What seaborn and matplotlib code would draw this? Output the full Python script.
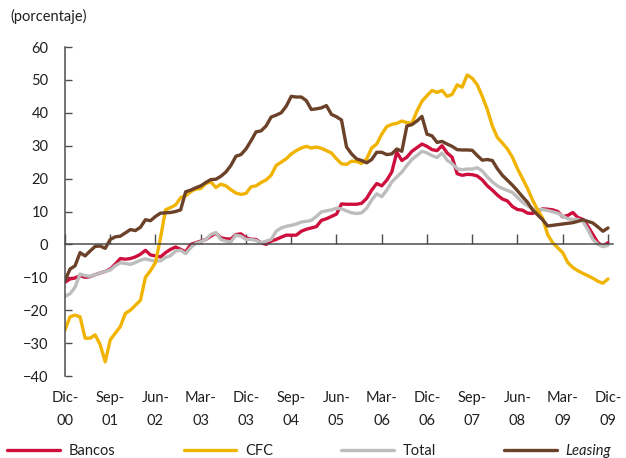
import matplotlib
matplotlib.use("Agg")
import matplotlib.pyplot as plt
import numpy as np
import pandas as pd
import seaborn as sns

# monthly series, Dic-00 .. Dic-09 (porcentaje)
meses = pd.date_range("2000-12-01", "2009-12-01", freq="MS")

tick_pos = list(range(0, 109, 9))
tick_labels = ["Dic-\n00", "Sep-\n01", "Jun-\n02", "Mar-\n03", "Dic-\n03", "Sep-\n04", "Jun-\n05",
               "Mar-\n06", "Dic-\n06", "Sep-\n07", "Jun-\n08", "Mar-\n09", "Dic-\n09"]

bancos = [-11.5, -10.5, -10.2, -9.5, -10.0, -9.8, -9.2, -8.7, -8.2, -7.5,
          -6.0, -4.3, -4.5, -4.3, -3.8, -3.0, -1.8, -3.2, -3.5, -3.8,
          -2.5, -1.5, -0.8, -1.5, -2.3, 0.0, 0.5, 1.0, 1.5, 2.5,
          3.4, 2.0, 1.7, 1.6, 3.0, 3.2, 2.0, 1.6, 1.5, 0.5,
          0.0, 1.0, 1.5, 2.2, 2.8, 2.8, 2.8, 4.0, 4.6, 5.0,
          5.4, 7.3, 7.8, 8.5, 9.2, 12.3, 12.2, 12.2, 12.2, 12.5,
          14.0, 16.5, 18.5, 17.8, 19.5, 22.0, 28.0, 25.5, 26.5, 28.3,
          29.4, 30.5, 29.8, 28.8, 28.5, 30.0, 27.8, 26.5, 21.5, 21.0,
          21.3, 21.2, 20.8, 19.6, 17.8, 16.5, 15.0, 13.8, 13.2, 11.5,
          10.6, 10.4, 9.5, 9.4, 10.2, 10.8, 10.7, 10.5, 10.0, 8.4,
          8.8, 9.7, 8.2, 7.6, 5.5, 3.0, 0.5, -0.5, 0.5]

cfc = [-26.0, -22.0, -21.5, -22.0, -28.5, -28.5, -27.5, -30.5, -35.7, -29.0,
       -27.0, -25.0, -21.0, -20.0, -18.5, -17.0, -10.0, -8.0, -5.5, 2.0,
       10.5, 11.2, 12.0, 14.2, 14.8, 16.0, 16.8, 17.0, 18.5, 19.0,
       17.3, 18.3, 17.8, 16.6, 15.6, 15.2, 15.5, 17.5, 17.8, 18.8,
       19.6, 21.0, 24.0, 25.0, 26.0, 27.5, 28.5, 29.3, 29.8, 29.3,
       29.6, 29.2, 28.5, 27.8, 26.0, 24.5, 24.3, 25.3, 25.2, 24.6,
       26.0, 29.3, 30.5, 33.5, 35.8, 36.5, 36.8, 37.5, 37.0, 36.8,
       40.5, 43.5, 45.2, 46.8, 46.2, 46.8, 45.0, 45.6, 48.5, 47.8,
       51.5, 50.5, 48.5, 45.0, 41.0, 36.0, 32.5, 30.8, 29.0, 26.5,
       23.0, 20.0, 17.0, 13.5, 10.5, 8.0, 3.0, 0.5, -1.0, -2.5,
       -5.5, -7.0, -8.0, -8.8, -9.5, -10.3, -11.2, -11.8, -10.5]

total = [-15.8, -15.0, -13.0, -9.0, -9.5, -9.7, -9.2, -8.7, -8.2, -7.8,
         -6.5, -5.6, -5.8, -6.1, -5.5, -4.8, -4.4, -4.8, -5.1, -5.0,
         -4.0, -3.4, -2.0, -1.8, -2.8, -1.0, 0.3, 0.8, 1.5, 3.0,
         3.6, 1.5, 1.0, 0.8, 2.8, 2.5, 1.5, 1.5, 1.2, 0.5,
         1.0, 1.5, 4.0, 5.0, 5.5, 5.8, 6.2, 6.8, 7.0, 7.3,
         8.5, 9.9, 10.2, 10.5, 11.0, 10.8, 10.2, 9.6, 9.4, 9.6,
         11.0, 13.5, 15.4, 14.5, 16.5, 19.0, 20.5, 22.0, 24.0, 25.8,
         27.0, 28.3, 27.8, 27.0, 26.4, 27.8, 25.6, 24.5, 23.0, 22.7,
         22.9, 22.9, 23.3, 22.3, 20.5, 19.0, 17.8, 17.0, 16.4, 15.8,
         14.3, 12.8, 11.8, 10.8, 10.5, 10.6, 10.3, 9.9, 9.5, 8.6,
         7.8, 7.6, 7.6, 7.0, 4.5, 1.5, 0.0, -0.7, -0.3]

leasing = [-11.0, -7.5, -6.5, -2.5, -3.5, -2.0, -0.6, -0.5, -1.2, 1.5,
           2.3, 2.5, 3.5, 4.5, 4.2, 5.2, 7.5, 7.2, 8.5, 9.5,
           9.6, 9.7, 10.0, 10.5, 16.0, 16.5, 17.2, 17.8, 18.8, 19.7,
           19.8, 20.7, 22.0, 24.0, 26.8, 27.3, 29.0, 31.5, 34.2, 34.5,
           36.0, 38.7, 39.3, 40.0, 42.0, 45.0, 44.8, 44.8, 43.7, 41.0,
           41.2, 41.5, 42.2, 39.5, 38.8, 37.8, 29.6, 27.5, 26.0, 25.5,
           24.8, 25.8, 28.0, 28.0, 27.3, 27.5, 29.0, 28.3, 36.0, 36.4,
           37.5, 38.9, 33.5, 33.0, 31.0, 31.3, 30.5, 29.8, 28.8, 28.7,
           28.7, 28.6, 27.0, 25.6, 25.8, 25.5, 23.0, 21.0, 19.5, 18.0,
           16.3, 14.5, 12.8, 10.5, 9.0, 7.5, 5.6, 5.8, 6.0, 6.2,
           6.4, 6.6, 7.0, 7.5, 7.0, 6.5, 5.3, 4.0, 5.0]

df = pd.DataFrame({
    "mes": np.arange(len(meses)),
    "Bancos": bancos,
    "CFC": cfc,
    "Total": total,
    "Leasing": leasing,
})

colors = {"Bancos": "#CE0F3D", "CFC": "#F0B400", "Total": "#BDBDBD", "Leasing": "#6B4129"}

sns.set_style("ticks")
plt.rcParams["font.family"] = ["Lato", "DejaVu Sans"]
text_color = "#231F20"

fig = plt.figure(figsize=(6.26, 4.58), dpi=100)
ax = fig.add_axes([65 / 626, 1 - 376 / 458, 548 / 626, 329 / 458])

# draw order: grey/red below, brown on top
for name in ["Bancos", "Total", "CFC", "Leasing"]:
    sns.lineplot(data=df, x="mes", y=name, color=colors[name], linewidth=2.4, ax=ax)

ax.set_xlim(0, 109)
ax.set_ylim(-40, 60)
ax.set_xlabel("")
ax.set_ylabel("")

for side in ["top", "right"]:
    ax.spines[side].set_visible(False)
ax.spines["left"].set_color("#4D4D4D")
ax.spines["left"].set_linewidth(1.1)
ax.spines["bottom"].set_position(("data", 0))
ax.spines["bottom"].set_color("#4D4D4D")
ax.spines["bottom"].set_linewidth(1.1)

ax.set_yticks(range(-40, 61, 10))
ax.tick_params(axis="y", direction="in", length=5, width=1, color="#4D4D4D",
               pad=12, labelsize=10.5, labelcolor=text_color)
ax.set_xticks(tick_pos)
ax.tick_params(axis="x", direction="in", length=7, width=1, color="#4D4D4D", labelbottom=False)

sec = ax.secondary_xaxis(0.0)
sec.set_xticks(tick_pos, tick_labels)
sec.tick_params(length=0, pad=11, labelsize=10.5, labelcolor=text_color)
sec.spines["bottom"].set_visible(False)
for lab in sec.get_xticklabels():
    lab.set_linespacing(1.75)

fig.text(10 / 626, 1 - 16 / 458, "(porcentaje)", fontsize=10.5, color=text_color, va="center")

order = ["Bancos", "CFC", "Total", "Leasing"]
handles = [plt.Line2D([], [], color=colors[n], linewidth=2.4) for n in order]
leg = fig.legend(handles, order, loc="center left", bbox_to_anchor=(7 / 626, 1 - 451 / 458), ncol=4,
                 frameon=False, fontsize=10.5, handlelength=3.6, handletextpad=0.6,
                 columnspacing=4.7, borderaxespad=0, borderpad=0)
for t in leg.get_texts():
    t.set_color(text_color)
leg.get_texts()[3].set_style("italic")

fig.savefig("out.png", dpi=100)
